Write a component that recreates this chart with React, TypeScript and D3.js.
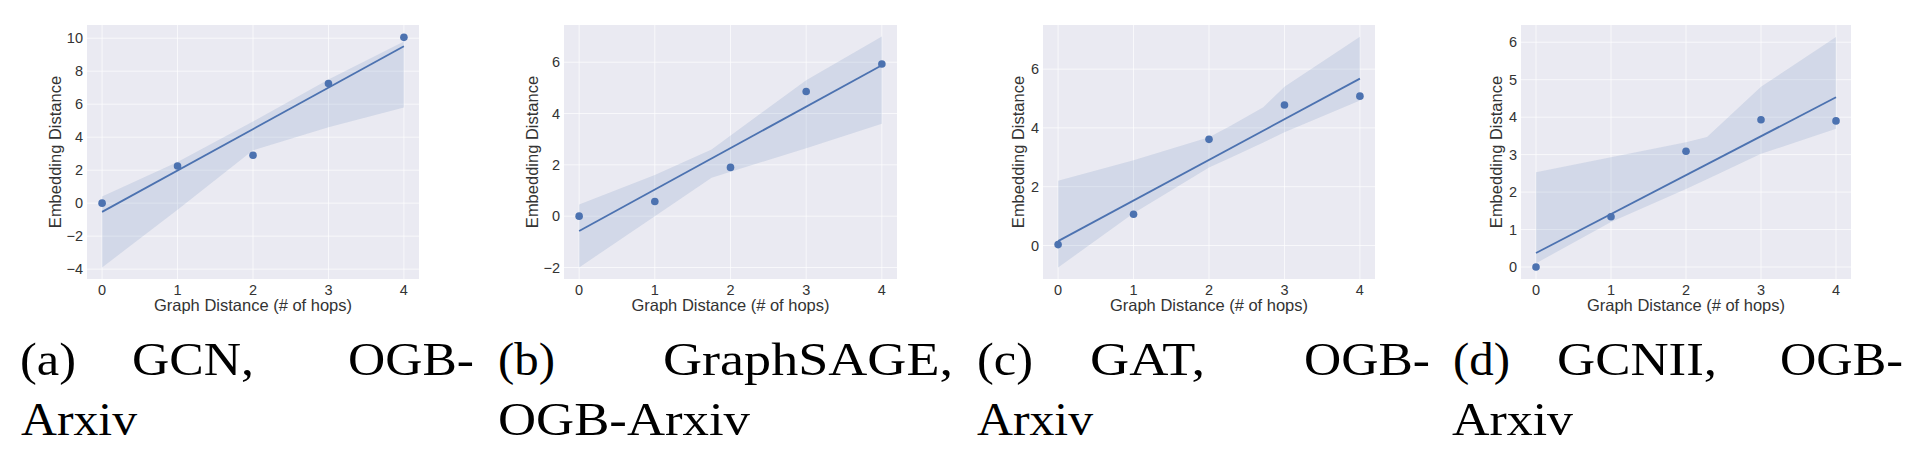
import React from 'react';
import * as d3 from 'd3';

// graph distance (# of hops) on the x axis, shared by all panels
const hops = [0, 1, 2, 3, 4];

// embedding distance per hop
const gcnDist = [0.0, 2.25, 2.9, 7.25, 10.05];
const sageDist = [0.0, 0.57, 1.9, 4.86, 5.93];
const gatDist = [0.03, 1.06, 3.61, 4.78, 5.08];
const gcniiDist = [0.0, 1.34, 3.09, 3.93, 3.9];

// bootstrap confidence band edges
const gcnBandX = [0, 1, 2, 3, 4];
const gcnBandHi = [0.4, 2.5, 4.95, 7.5, 9.8];
const gcnBandLo = [-3.9, -0.4, 3.2, 4.6, 5.8];

const sageBandX = [0, 1, 1.75, 3, 4];
const sageBandHi = [0.45, 1.6, 2.6, 5.3, 7.0];
const sageBandLo = [-2.0, 0.0, 1.5, 2.65, 3.6];

const gatBandX = [0, 1, 2, 2.27, 2.72, 3, 4];
const gatBandHi = [2.2, 2.9, 3.68, 4.05, 4.7, 5.4, 7.1];
const gatBandLo = [-0.75, 1.1, 2.65, 2.97, 3.5, 3.85, 4.93];

const gcniiBandX = [0, 1, 2, 2.28, 3, 4];
const gcniiBandHi = [2.53, 2.93, 3.33, 3.47, 4.81, 6.14];
const gcniiBandLo = [0.1, 1.2, 2.08, 2.34, 3.02, 3.69];

// tick labels
const xTicks = [0, 1, 2, 3, 4];
const gcnTicks = [-4, -2, 0, 2, 4, 6, 8, 10];
const sageTicks = [-2, 0, 2, 4, 6];
const gatTicks = [0, 2, 4, 6];
const gcniiTicks = [0, 1, 2, 3, 4, 5, 6];

// y limits as matplotlib picked them
const gcnYLim = [-4.6, 10.8];
const sageYLim = [-2.45, 7.45];
const gatYLim = [-1.14, 7.5];
const gcniiYLim = [-0.32, 6.46];

const xLabel = 'Graph Distance (# of hops)';
const yLabel = 'Embedding Distance';

const gcnCaption = ['(a)', 'GCN,', 'OGB-', 'Arxiv'];
const sageCaption = ['(b)', 'GraphSAGE,', 'OGB-Arxiv'];
const gatCaption = ['(c)', 'GAT,', 'OGB-', 'Arxiv'];
const gcniiCaption = ['(d)', 'GCNII,', 'OGB-', 'Arxiv'];

const BLUE = '#4c72b0';
const BG = '#eaeaf2';
const TEXT = '#333';
const SANS = '"Liberation Sans", Arial, sans-serif';
const SERIF = '"Liberation Serif", "Times New Roman", serif';

const TOP = 25;
const BOTTOM = 279;

// layout per panel: plot box + caption word boxes [x, width]
const panels = [
  {
    y: gcnDist, bx: gcnBandX, hi: gcnBandHi, lo: gcnBandLo, ticks: gcnTicks, ylim: gcnYLim,
    left: 87, right: 419, caption: gcnCaption,
    line1: [[20, 56], [132, 122], [348, 126]], line2: [[21, 116]],
  },
  {
    y: sageDist, bx: sageBandX, hi: sageBandHi, lo: sageBandLo, ticks: sageTicks, ylim: sageYLim,
    left: 564, right: 897, caption: sageCaption,
    line1: [[498, 57], [663, 290]], line2: [[498, 252]],
  },
  {
    y: gatDist, bx: gatBandX, hi: gatBandHi, lo: gatBandLo, ticks: gatTicks, ylim: gatYLim,
    left: 1043, right: 1375, caption: gatCaption,
    line1: [[977, 56], [1090, 115], [1304, 126]], line2: [[977, 116]],
  },
  {
    y: gcniiDist, bx: gcniiBandX, hi: gcniiBandHi, lo: gcniiBandLo, ticks: gcniiTicks, ylim: gcniiYLim,
    left: 1521, right: 1851, caption: gcniiCaption,
    line1: [[1453, 57], [1557, 160], [1780, 123]], line2: [[1452, 121]],
  },
];

function fit(xs: number[], ys: number[]) {
  const mx = d3.mean(xs)!;
  const my = d3.mean(ys)!;
  const sxy = d3.sum(xs, (x, i) => (x - mx) * (ys[i] - my));
  const sxx = d3.sum(xs, (x) => (x - mx) * (x - mx));
  const slope = sxy / sxx;
  return { slope, intercept: my - slope * mx };
}

function Panel({ p }: { p: (typeof panels)[number] }) {
  const x = d3.scaleLinear().domain([-0.2, 4.2]).range([p.left, p.right]);
  const y = d3.scaleLinear().domain(p.ylim).range([BOTTOM, TOP]);
  const { slope, intercept } = fit(hops, p.y);
  const x0 = d3.min(hops)!;
  const x1 = d3.max(hops)!;

  const band = d3
    .area<number>()
    .x((d) => x(d))
    .y0((_, i) => y(p.lo[i]))
    .y1((_, i) => y(p.hi[i]));

  const line = d3
    .line<number>()
    .x((d) => x(d))
    .y((d) => y(intercept + slope * d));

  const maxChars = d3.max(p.ticks, (t) => String(t).length)!;
  const yLabelX = p.left - 12 - 7 * maxChars;
  const cx = (p.left + p.right) / 2;

  return (
    <g>
      <rect x={p.left} y={TOP} width={p.right - p.left} height={BOTTOM - TOP} fill={BG} />
      {p.ticks.map((t) => (
        <line key={'gy' + t} x1={p.left} x2={p.right} y1={y(t)} y2={y(t)} stroke="#fff" strokeWidth={1} opacity={0.7} />
      ))}
      {xTicks.map((t) => (
        <line key={'gx' + t} x1={x(t)} x2={x(t)} y1={TOP} y2={BOTTOM} stroke="#fff" strokeWidth={1} opacity={0.7} />
      ))}
      <path d={band(p.bx) || ''} fill={BLUE} fillOpacity={0.15} />
      <path d={line([x0, x1]) || ''} fill="none" stroke={BLUE} strokeWidth={1.8} />
      {hops.map((h, i) => (
        <circle key={'pt' + h} cx={x(h)} cy={y(p.y[i])} r={3.8} fill={BLUE} />
      ))}

      {xTicks.map((t) => (
        <text key={'tx' + t} x={x(t)} y={295} textAnchor="middle" fontSize={14.5} fill={TEXT} fontFamily={SANS}>
          {t}
        </text>
      ))}
      {p.ticks.map((t) => (
        <text key={'ty' + t} x={p.left - 4} y={y(t)} dy="0.35em" textAnchor="end" fontSize={14.5} fill={TEXT} fontFamily={SANS}>
          {t < 0 ? '\u2212' + Math.abs(t) : t}
        </text>
      ))}
      <text x={cx} y={311} textAnchor="middle" fontSize={16.5} fill={TEXT} fontFamily={SANS}>
        {xLabel}
      </text>
      <text
        transform={`translate(${yLabelX},${(TOP + BOTTOM) / 2}) rotate(-90)`}
        textAnchor="middle"
        fontSize={16.5}
        fill={TEXT}
        fontFamily={SANS}
      >
        {yLabel}
      </text>

      {p.line1.map(([wx, ww], i) => (
        <text key={'c1' + i} x={wx} y={375} fontSize={46} fontFamily={SERIF} fill="#000" textLength={ww} lengthAdjust="spacingAndGlyphs">
          {p.caption[i]}
        </text>
      ))}
      {p.line2.map(([wx, ww], i) => (
        <text key={'c2' + i} x={wx} y={435} fontSize={46} fontFamily={SERIF} fill="#000" textLength={ww} lengthAdjust="spacingAndGlyphs">
          {p.caption[p.line1.length + i]}
        </text>
      ))}
    </g>
  );
}

export default function App() {
  return (
    <svg
      width={1920}
      height={476}
      style={{ position: 'absolute', left: 0, top: 0, background: '#fff' }}
    >
      {panels.map((p, i) => (
        <Panel key={i} p={p} />
      ))}
    </svg>
  );
}
